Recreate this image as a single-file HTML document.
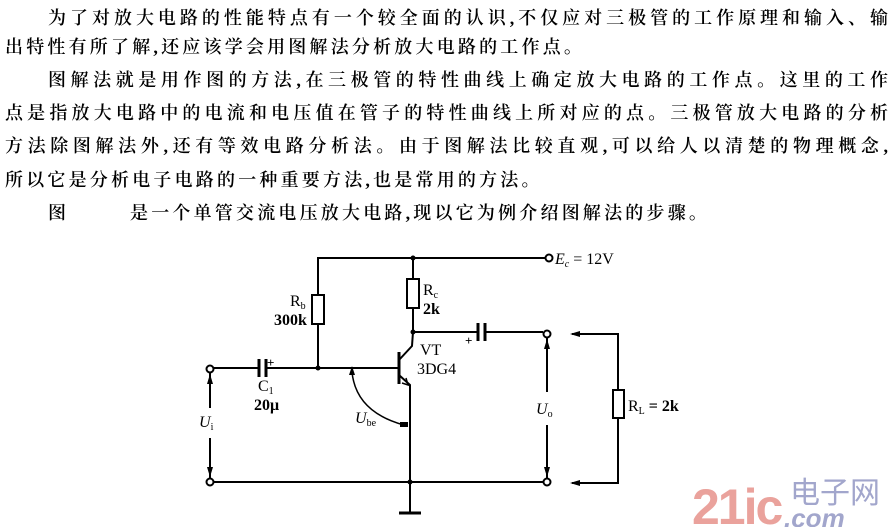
<!DOCTYPE html>
<html><head><meta charset="utf-8"><style>
html,body{margin:0;padding:0;background:#fff;}
body{width:892px;height:527px;position:relative;overflow:hidden;font-family:"Liberation Serif","Noto Serif CJK SC","Noto Sans CJK SC",serif;color:#000;}
.l{position:absolute;font-size:18px;line-height:20px;white-space:nowrap;font-weight:600;}
.j{text-align:justify;text-align-last:justify;}
svg{position:absolute;left:0;top:0;}
</style></head><body>
<div class="l j" style="left:48px;top:8px;width:840px;">为了对放大电路的性能特点有一个较全面的认识,不仅应对三极管的工作原理和输入、输</div>
<div class="l" style="left:5px;top:37px;letter-spacing:3.2px;">出特性有所了解,还应该学会用图解法分析放大电路的工作点。</div>
<div class="l j" style="left:48px;top:70px;width:840px;">图解法就是用作图的方法,在三极管的特性曲线上确定放大电路的工作点。这里的工作</div>
<div class="l j" style="left:5px;top:103px;width:883px;">点是指放大电路中的电流和电压值在管子的特性曲线上所对应的点。三极管放大电路的分析</div>
<div class="l j" style="left:5px;top:136px;width:883px;">方法除图解法外,还有等效电路分析法。由于图解法比较直观,可以给人以清楚的物理概念,</div>
<div class="l" style="left:5px;top:170px;letter-spacing:3.2px;">所以它是分析电子电路的一种重要方法,也是常用的方法。</div>
<div class="l" style="left:48px;top:203px;">图</div>
<div class="l" style="left:130px;top:203px;letter-spacing:3.2px;">是一个单管交流电压放大电路,现以它为例介绍图解法的步骤。</div>

<svg width="892" height="527" viewBox="0 0 892 527">
<g stroke="#000" stroke-width="2" fill="none">
<polyline points="318,368 318,258 545,258"/>
<circle cx="549" cy="258" r="3.5" fill="#fff"/>
<rect x="312" y="295" width="12" height="29" fill="#fff"/>
<line x1="413" y1="258" x2="413" y2="332"/>
<rect x="407" y="279" width="12" height="29" fill="#fff"/>
<line x1="413" y1="332" x2="477" y2="332"/>
<line x1="486" y1="332" x2="543" y2="332"/>
<line x1="478" y1="323" x2="478" y2="341" stroke-width="3"/>
<line x1="485" y1="323" x2="485" y2="341" stroke-width="3"/>
<circle cx="547" cy="334" r="3.5" fill="#fff"/>
<line x1="214" y1="368" x2="258" y2="368"/>
<line x1="267" y1="368" x2="398" y2="368"/>
<line x1="259" y1="359" x2="259" y2="377" stroke-width="3"/>
<line x1="266" y1="359" x2="266" y2="377" stroke-width="3"/>
<circle cx="210" cy="369" r="3.5" fill="#fff"/>
<circle cx="210" cy="482" r="3.5" fill="#fff"/>
<line x1="399" y1="352" x2="399" y2="384" stroke-width="3"/>
<polyline points="399,360 412,346 413,332"/>
<polyline points="399,375 410,385 410,482"/>
<polyline points="402,383 408,385 406,378" stroke-width="1.5"/>
<line x1="214" y1="482" x2="543" y2="482"/>
<circle cx="547" cy="482" r="3.5" fill="#fff"/>
<line x1="410" y1="482" x2="410" y2="512"/>
<line x1="399" y1="513" x2="421" y2="513" stroke-width="3"/>
<line x1="210" y1="373" x2="210" y2="408"/>
<line x1="210" y1="438" x2="210" y2="478"/>
<line x1="547" y1="338" x2="547" y2="392"/>
<line x1="547" y1="425" x2="547" y2="478"/>
<path d="M352,372 Q356,412 404,425" stroke-width="1.5"/>
<polyline points="572,334 618,334 618,483 572,483"/>
<rect x="613" y="390" width="11" height="28" fill="#fff"/>
</g>
<g fill="#000">
<circle cx="318" cy="368" r="2.5"/><circle cx="413" cy="258" r="2.5"/>
<circle cx="413" cy="332" r="2.5"/><circle cx="410" cy="482" r="2.5"/>
<polygon points="352,366 349,375 355,375"/>
<polygon points="210,374 207,384 213,384"/>
<polygon points="210,477 207,467 213,467"/>
<polygon points="547,339 544,349 550,349"/>
<polygon points="547,477 544,467 550,467"/>
<polygon points="570,334 580,331 580,337"/>
<polygon points="570,483 580,480 580,486"/>
<rect x="400" y="422" width="8" height="5"/>
</g>
<g font-family="Liberation Serif,serif" font-size="16" fill="#000">
<text x="555" y="264" font-style="italic">E<tspan font-size="10" dy="3">c</tspan><tspan dy="-3" font-style="normal"> = 12V</tspan></text>
<text x="290" y="306">R<tspan font-size="10" dy="3">b</tspan></text>
<text x="274" y="325" font-weight="bold">300k</text>
<text x="423" y="295">R<tspan font-size="10" dy="3">c</tspan></text>
<text x="423" y="314" font-weight="bold">2k</text>
<text x="420" y="355">VT</text>
<text x="417" y="374">3DG4</text>
<text x="258" y="391">C<tspan font-size="10" dy="3">1</tspan></text>
<text x="254" y="410" font-weight="bold">20μ</text>
<text x="199" y="427" font-style="italic">U<tspan font-size="10" dy="3" font-style="normal">i</tspan></text>
<text x="355" y="423" font-style="italic">U<tspan font-size="10" dy="3" font-style="normal">be</tspan></text>
<text x="536" y="414" font-style="italic">U<tspan font-size="10" dy="3" font-style="normal">o</tspan></text>
<text x="628" y="411">R<tspan font-size="10" dy="3">L</tspan><tspan dy="-3" font-weight="bold"> = 2k</tspan></text>
<text x="267" y="367" font-size="13" font-weight="bold">+</text>
<text x="465" y="345" font-size="13" font-weight="bold">+</text>
</g>
<text x="692" y="524" font-family="Liberation Sans,sans-serif" font-size="50" font-weight="bold" fill="#eaa29c" letter-spacing="-2">21ic</text>
<text x="790" y="503" font-family="Noto Sans CJK SC,sans-serif" font-size="30" fill="#a2a6cc">电子网</text>
<text x="784" y="527" font-family="Liberation Sans,sans-serif" font-size="26" font-style="italic" font-weight="bold" fill="#a2a6cc">.com</text>
</svg>
</body></html>
